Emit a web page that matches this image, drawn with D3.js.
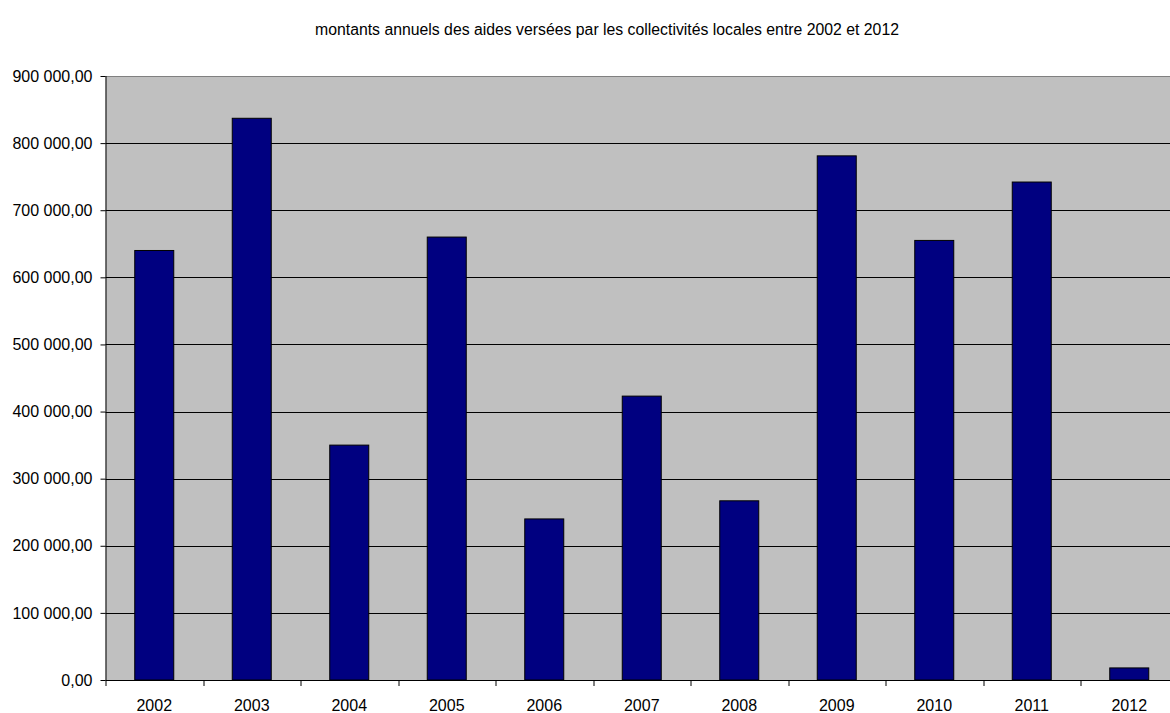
<!DOCTYPE html>
<html>
<head>
<meta charset="utf-8">
<script src="https://cdn.jsdelivr.net/npm/d3@7"></script>
<style>
  body { margin: 0; background: #fff; overflow: hidden; }
  svg { display: block; font-family: "Liberation Sans", Arial, sans-serif; }
</style>
</head>
<body>
<div id="chart"></div>
<script>
const years = ['2002', '2003', '2004', '2005', '2006', '2007', '2008', '2009', '2010', '2011', '2012'];
const amounts = [640000, 837000, 350000, 660000, 240000, 423000, 267000, 781000, 655000, 742000, 18000];
const yTicks = [0, 100000, 200000, 300000, 400000, 500000, 600000, 700000, 800000, 900000];
const title = 'montants annuels des aides versées par les collectivités locales entre 2002 et 2012';

const widthSvg = 1170;
const heightSvg = 713;
const margin = { top: 76, right: -8, bottom: 33, left: 105.5 };
const widthChart = widthSvg - margin.left - margin.right;
const heightChart = heightSvg - margin.top - margin.bottom;

const fmt = v => {
  const s = d3.format(',.2f')(v);
  return s.replace(/,/g, ' ').replace('.', ',');
};

const svg = d3.select('#chart').append('svg')
  .attr('width', widthSvg)
  .attr('height', heightSvg);

svg.append('text')
  .attr('x', 607)
  .attr('y', 35)
  .attr('text-anchor', 'middle')
  .attr('font-size', 15.8)
  .attr('fill', '#000')
  .text(title);

const scaleX = d3.scaleBand()
  .domain(years)
  .range([0, widthChart])
  .paddingInner(0.6)
  .paddingOuter(0.3);

const scaleY = d3.scaleLinear()
  .domain([0, 900000])
  .range([heightChart, 0]);

const g = svg.append('g')
  .attr('transform', `translate(${margin.left}, ${margin.top})`);

// plot background
g.append('rect')
  .attr('x', 0).attr('y', 0)
  .attr('width', widthChart).attr('height', heightChart)
  .attr('fill', '#c0c0c0');

// gridlines
g.append('g')
  .selectAll('line')
  .data(yTicks.filter(d => d > 0))
  .join('line')
  .attr('x1', 0).attr('x2', widthChart)
  .attr('y1', d => Math.round(scaleY(d)) + 0.5)
  .attr('y2', d => Math.round(scaleY(d)) + 0.5)
  .attr('stroke', d => d === 900000 ? '#808080' : '#000')
  .attr('stroke-width', 1);

// bars
g.append('g')
  .selectAll('rect')
  .data(amounts)
  .join('rect')
  .attr('x', (d, i) => scaleX(years[i]))
  .attr('y', d => scaleY(d))
  .attr('width', scaleX.bandwidth())
  .attr('height', d => heightChart - scaleY(d))
  .attr('fill', '#000080')
  .attr('stroke', '#000')
  .attr('stroke-width', 1);

// y axis
const axisY = d3.axisLeft(scaleY)
  .tickValues(yTicks)
  .tickSize(5)
  .tickPadding(8)
  .tickFormat(fmt);

const groupAxisY = g.append('g').call(axisY);
groupAxisY.selectAll('text').attr('font-size', 16).attr('fill', '#000');
groupAxisY.selectAll('line').attr('stroke', '#000');
groupAxisY.select('.domain').attr('stroke', '#000').attr('d', `M0.5,0V${heightChart}`);

// x axis with ticks between categories
const groupAxisX = g.append('g')
  .attr('transform', `translate(0, ${heightChart})`);

groupAxisX.append('line')
  .attr('x1', 0).attr('x2', widthChart)
  .attr('y1', 0.5).attr('y2', 0.5)
  .attr('stroke', '#000');

const step = scaleX.step();
groupAxisX.selectAll('.tick-sep')
  .data(d3.range(years.length + 1))
  .join('line')
  .attr('class', 'tick-sep')
  .attr('x1', i => Math.round(i * step) + 0.5)
  .attr('x2', i => Math.round(i * step) + 0.5)
  .attr('y1', 0).attr('y2', 6)
  .attr('stroke', '#000');

groupAxisX.selectAll('.label')
  .data(years)
  .join('text')
  .attr('class', 'label')
  .attr('x', d => scaleX(d) + scaleX.bandwidth() / 2)
  .attr('y', 31)
  .attr('text-anchor', 'middle')
  .attr('font-size', 16)
  .attr('fill', '#000')
  .text(d => d);
</script>
</body>
</html>
